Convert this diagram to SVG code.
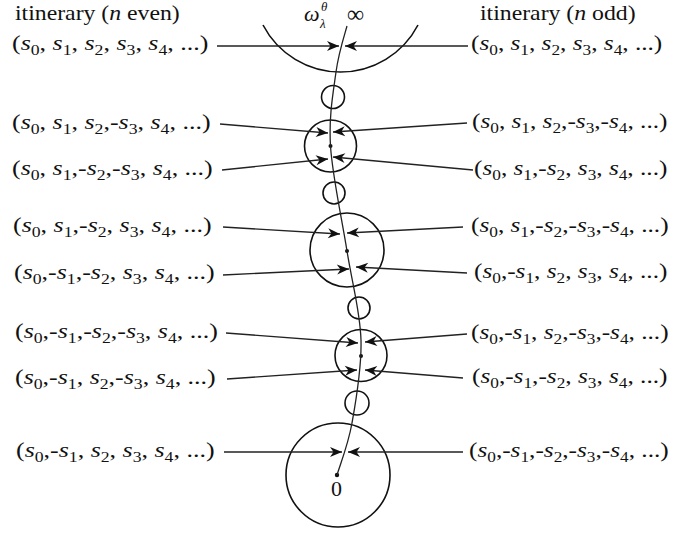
<svg xmlns="http://www.w3.org/2000/svg" width="673" height="533" viewBox="0 0 673 533">
<style>
.t{font-family:"Liberation Serif","Times New Roman",serif;font-size:22px;fill:#111}
.i{font-style:italic}
.sb{font-size:15px}
.gs{font-size:13px;font-style:italic}
.ln{stroke:#222;stroke-width:1.3;fill:none}
.ar{stroke:#222;stroke-width:1.3;fill:none;marker-end:url(#ah)}
.c{stroke:#111;stroke-width:1.6;fill:none}
.d{fill:#111}
</style>
<defs>
<marker id="ah" viewBox="-13 -6 14 12" refX="0" refY="0" markerWidth="14" markerHeight="12" markerUnits="userSpaceOnUse" orient="auto">
<path d="M0,0 L-12,-5 L-8.5,0 L-12,5 Z" fill="#111"/>
</marker>
</defs>
<g id="titles">
<text class="t" transform="translate(15,20) scale(1.08,1)">itinerary (<tspan class="i">n</tspan> even)</text>
<text class="t" transform="translate(480,20) scale(1.08,1)">itinerary (<tspan class="i">n</tspan> odd)</text>
</g>
<g id="top-labels">
<text class="t i" x="304" y="21">ω</text>
<text class="t gs" x="320" y="28">λ</text>
<text class="t gs" x="321" y="11">θ</text>
<text class="t" x="347" y="22" style="font-size:24px">∞</text>
</g>
<g id="circles">
<path id="outer-arc" class="c" d="M263,25 A87.4,87.4 0 0 0 418,25"/>
<circle id="c1" class="c" cx="333" cy="97" r="11.5"/>
<circle id="c2" class="c" cx="330.5" cy="146" r="26"/>
<circle id="c3" class="c" cx="334" cy="193" r="11"/>
<circle id="c4" class="c" cx="347" cy="250" r="37"/>
<circle id="c5" class="c" cx="359" cy="308" r="11"/>
<circle id="c6" class="c" cx="361" cy="355.5" r="26"/>
<circle id="c7" class="c" cx="357" cy="403" r="12"/>
<circle id="c8" class="c" cx="338" cy="475" r="52"/>
<circle class="d" cx="330.5" cy="146" r="2"/>
<circle class="d" cx="347" cy="251" r="2"/>
<circle class="d" cx="361" cy="356" r="2"/>
<circle class="d" cx="337" cy="475" r="2.2"/>
<text class="t" x="331" y="496">0</text>
</g>
<g id="connectors">
<path class="ln" d="M347,26 C345.2,32.8 338.75,51.8 336,72 C333.25,92.2 328.67,116.2 330.5,146 C332.33,175.8 341.9,218.7 347,251 C352.1,283.3 360.2,311.3 361,340 C361.8,368.7 356,400.5 352,423 C348,445.5 339.5,466.3 337,475"/>
<line class="ar" x1="217" y1="46" x2="339" y2="46"/>
<line class="ar" x1="468" y1="46" x2="345" y2="46"/>
<line class="ar" x1="220" y1="124" x2="328" y2="133"/>
<line class="ar" x1="467" y1="123" x2="333" y2="132"/>
<line class="ar" x1="222" y1="170" x2="328" y2="159"/>
<line class="ar" x1="473" y1="170" x2="333" y2="157"/>
<line class="ar" x1="223" y1="227" x2="340" y2="234"/>
<line class="ar" x1="463" y1="227" x2="347" y2="233"/>
<line class="ar" x1="223" y1="275" x2="349" y2="269"/>
<line class="ar" x1="467" y1="273" x2="356" y2="267"/>
<line class="ar" x1="226" y1="333" x2="358" y2="343"/>
<line class="ar" x1="467" y1="334" x2="365" y2="342"/>
<line class="ar" x1="227" y1="379" x2="357" y2="370"/>
<line class="ar" x1="463" y1="378" x2="365" y2="370"/>
<line class="ar" x1="224" y1="452" x2="342" y2="452"/>
<line class="ar" x1="463" y1="452" x2="348" y2="452"/>
</g>
<g id="left-labels">
<text id="L1" class="t" transform="translate(12,50) scale(1.18,1)">(<tspan class="i">s</tspan><tspan class="sb" dy="5">0</tspan><tspan dy="-5">, </tspan><tspan class="i">s</tspan><tspan class="sb" dy="5">1</tspan><tspan dy="-5">, </tspan><tspan class="i">s</tspan><tspan class="sb" dy="5">2</tspan><tspan dy="-5">, </tspan><tspan class="i">s</tspan><tspan class="sb" dy="5">3</tspan><tspan dy="-5">, </tspan><tspan class="i">s</tspan><tspan class="sb" dy="5">4</tspan><tspan dy="-5">, ...)</tspan></text>
<text id="L2" class="t" transform="translate(12,129) scale(1.18,1)">(<tspan class="i">s</tspan><tspan class="sb" dy="5">0</tspan><tspan dy="-5">, </tspan><tspan class="i">s</tspan><tspan class="sb" dy="5">1</tspan><tspan dy="-5">, </tspan><tspan class="i">s</tspan><tspan class="sb" dy="5">2</tspan><tspan dy="-5">,-</tspan><tspan class="i">s</tspan><tspan class="sb" dy="5">3</tspan><tspan dy="-5">, </tspan><tspan class="i">s</tspan><tspan class="sb" dy="5">4</tspan><tspan dy="-5">, ...)</tspan></text>
<text id="L3" class="t" transform="translate(12,175) scale(1.18,1)">(<tspan class="i">s</tspan><tspan class="sb" dy="5">0</tspan><tspan dy="-5">, </tspan><tspan class="i">s</tspan><tspan class="sb" dy="5">1</tspan><tspan dy="-5">,-</tspan><tspan class="i">s</tspan><tspan class="sb" dy="5">2</tspan><tspan dy="-5">,-</tspan><tspan class="i">s</tspan><tspan class="sb" dy="5">3</tspan><tspan dy="-5">, </tspan><tspan class="i">s</tspan><tspan class="sb" dy="5">4</tspan><tspan dy="-5">, ...)</tspan></text>
<text id="L4" class="t" transform="translate(13,232) scale(1.18,1)">(<tspan class="i">s</tspan><tspan class="sb" dy="5">0</tspan><tspan dy="-5">, </tspan><tspan class="i">s</tspan><tspan class="sb" dy="5">1</tspan><tspan dy="-5">,-</tspan><tspan class="i">s</tspan><tspan class="sb" dy="5">2</tspan><tspan dy="-5">, </tspan><tspan class="i">s</tspan><tspan class="sb" dy="5">3</tspan><tspan dy="-5">, </tspan><tspan class="i">s</tspan><tspan class="sb" dy="5">4</tspan><tspan dy="-5">, ...)</tspan></text>
<text id="L5" class="t" transform="translate(14,279) scale(1.18,1)">(<tspan class="i">s</tspan><tspan class="sb" dy="5">0</tspan><tspan dy="-5">,-</tspan><tspan class="i">s</tspan><tspan class="sb" dy="5">1</tspan><tspan dy="-5">,-</tspan><tspan class="i">s</tspan><tspan class="sb" dy="5">2</tspan><tspan dy="-5">, </tspan><tspan class="i">s</tspan><tspan class="sb" dy="5">3</tspan><tspan dy="-5">, </tspan><tspan class="i">s</tspan><tspan class="sb" dy="5">4</tspan><tspan dy="-5">, ...)</tspan></text>
<text id="L6" class="t" transform="translate(15,338) scale(1.18,1)">(<tspan class="i">s</tspan><tspan class="sb" dy="5">0</tspan><tspan dy="-5">,-</tspan><tspan class="i">s</tspan><tspan class="sb" dy="5">1</tspan><tspan dy="-5">,-</tspan><tspan class="i">s</tspan><tspan class="sb" dy="5">2</tspan><tspan dy="-5">,-</tspan><tspan class="i">s</tspan><tspan class="sb" dy="5">3</tspan><tspan dy="-5">, </tspan><tspan class="i">s</tspan><tspan class="sb" dy="5">4</tspan><tspan dy="-5">, ...)</tspan></text>
<text id="L7" class="t" transform="translate(15,384) scale(1.18,1)">(<tspan class="i">s</tspan><tspan class="sb" dy="5">0</tspan><tspan dy="-5">,-</tspan><tspan class="i">s</tspan><tspan class="sb" dy="5">1</tspan><tspan dy="-5">, </tspan><tspan class="i">s</tspan><tspan class="sb" dy="5">2</tspan><tspan dy="-5">,-</tspan><tspan class="i">s</tspan><tspan class="sb" dy="5">3</tspan><tspan dy="-5">, </tspan><tspan class="i">s</tspan><tspan class="sb" dy="5">4</tspan><tspan dy="-5">, ...)</tspan></text>
<text id="L8" class="t" transform="translate(16,457) scale(1.18,1)">(<tspan class="i">s</tspan><tspan class="sb" dy="5">0</tspan><tspan dy="-5">,-</tspan><tspan class="i">s</tspan><tspan class="sb" dy="5">1</tspan><tspan dy="-5">, </tspan><tspan class="i">s</tspan><tspan class="sb" dy="5">2</tspan><tspan dy="-5">, </tspan><tspan class="i">s</tspan><tspan class="sb" dy="5">3</tspan><tspan dy="-5">, </tspan><tspan class="i">s</tspan><tspan class="sb" dy="5">4</tspan><tspan dy="-5">, ...)</tspan></text>
</g>
<g id="right-labels">
<text id="R1" class="t" transform="translate(471,50) scale(1.15,1)">(<tspan class="i">s</tspan><tspan class="sb" dy="5">0</tspan><tspan dy="-5">, </tspan><tspan class="i">s</tspan><tspan class="sb" dy="5">1</tspan><tspan dy="-5">, </tspan><tspan class="i">s</tspan><tspan class="sb" dy="5">2</tspan><tspan dy="-5">, </tspan><tspan class="i">s</tspan><tspan class="sb" dy="5">3</tspan><tspan dy="-5">, </tspan><tspan class="i">s</tspan><tspan class="sb" dy="5">4</tspan><tspan dy="-5">, ...)</tspan></text>
<text id="R2" class="t" transform="translate(472,128) scale(1.15,1)">(<tspan class="i">s</tspan><tspan class="sb" dy="5">0</tspan><tspan dy="-5">, </tspan><tspan class="i">s</tspan><tspan class="sb" dy="5">1</tspan><tspan dy="-5">, </tspan><tspan class="i">s</tspan><tspan class="sb" dy="5">2</tspan><tspan dy="-5">,-</tspan><tspan class="i">s</tspan><tspan class="sb" dy="5">3</tspan><tspan dy="-5">,-</tspan><tspan class="i">s</tspan><tspan class="sb" dy="5">4</tspan><tspan dy="-5">, ...)</tspan></text>
<text id="R3" class="t" transform="translate(474,175) scale(1.15,1)">(<tspan class="i">s</tspan><tspan class="sb" dy="5">0</tspan><tspan dy="-5">, </tspan><tspan class="i">s</tspan><tspan class="sb" dy="5">1</tspan><tspan dy="-5">,-</tspan><tspan class="i">s</tspan><tspan class="sb" dy="5">2</tspan><tspan dy="-5">, </tspan><tspan class="i">s</tspan><tspan class="sb" dy="5">3</tspan><tspan dy="-5">, </tspan><tspan class="i">s</tspan><tspan class="sb" dy="5">4</tspan><tspan dy="-5">, ...)</tspan></text>
<text id="R4" class="t" transform="translate(471,232) scale(1.15,1)">(<tspan class="i">s</tspan><tspan class="sb" dy="5">0</tspan><tspan dy="-5">, </tspan><tspan class="i">s</tspan><tspan class="sb" dy="5">1</tspan><tspan dy="-5">,-</tspan><tspan class="i">s</tspan><tspan class="sb" dy="5">2</tspan><tspan dy="-5">,-</tspan><tspan class="i">s</tspan><tspan class="sb" dy="5">3</tspan><tspan dy="-5">,-</tspan><tspan class="i">s</tspan><tspan class="sb" dy="5">4</tspan><tspan dy="-5">, ...)</tspan></text>
<text id="R5" class="t" transform="translate(474,278) scale(1.15,1)">(<tspan class="i">s</tspan><tspan class="sb" dy="5">0</tspan><tspan dy="-5">,-</tspan><tspan class="i">s</tspan><tspan class="sb" dy="5">1</tspan><tspan dy="-5">, </tspan><tspan class="i">s</tspan><tspan class="sb" dy="5">2</tspan><tspan dy="-5">, </tspan><tspan class="i">s</tspan><tspan class="sb" dy="5">3</tspan><tspan dy="-5">, </tspan><tspan class="i">s</tspan><tspan class="sb" dy="5">4</tspan><tspan dy="-5">, ...)</tspan></text>
<text id="R6" class="t" transform="translate(471,339) scale(1.15,1)">(<tspan class="i">s</tspan><tspan class="sb" dy="5">0</tspan><tspan dy="-5">,-</tspan><tspan class="i">s</tspan><tspan class="sb" dy="5">1</tspan><tspan dy="-5">, </tspan><tspan class="i">s</tspan><tspan class="sb" dy="5">2</tspan><tspan dy="-5">,-</tspan><tspan class="i">s</tspan><tspan class="sb" dy="5">3</tspan><tspan dy="-5">,-</tspan><tspan class="i">s</tspan><tspan class="sb" dy="5">4</tspan><tspan dy="-5">, ...)</tspan></text>
<text id="R7" class="t" transform="translate(472,383) scale(1.15,1)">(<tspan class="i">s</tspan><tspan class="sb" dy="5">0</tspan><tspan dy="-5">,-</tspan><tspan class="i">s</tspan><tspan class="sb" dy="5">1</tspan><tspan dy="-5">,-</tspan><tspan class="i">s</tspan><tspan class="sb" dy="5">2</tspan><tspan dy="-5">, </tspan><tspan class="i">s</tspan><tspan class="sb" dy="5">3</tspan><tspan dy="-5">, </tspan><tspan class="i">s</tspan><tspan class="sb" dy="5">4</tspan><tspan dy="-5">, ...)</tspan></text>
<text id="R8" class="t" transform="translate(469,457) scale(1.15,1)">(<tspan class="i">s</tspan><tspan class="sb" dy="5">0</tspan><tspan dy="-5">,-</tspan><tspan class="i">s</tspan><tspan class="sb" dy="5">1</tspan><tspan dy="-5">,-</tspan><tspan class="i">s</tspan><tspan class="sb" dy="5">2</tspan><tspan dy="-5">,-</tspan><tspan class="i">s</tspan><tspan class="sb" dy="5">3</tspan><tspan dy="-5">,-</tspan><tspan class="i">s</tspan><tspan class="sb" dy="5">4</tspan><tspan dy="-5">, ...)</tspan></text>
</g>
</svg>
